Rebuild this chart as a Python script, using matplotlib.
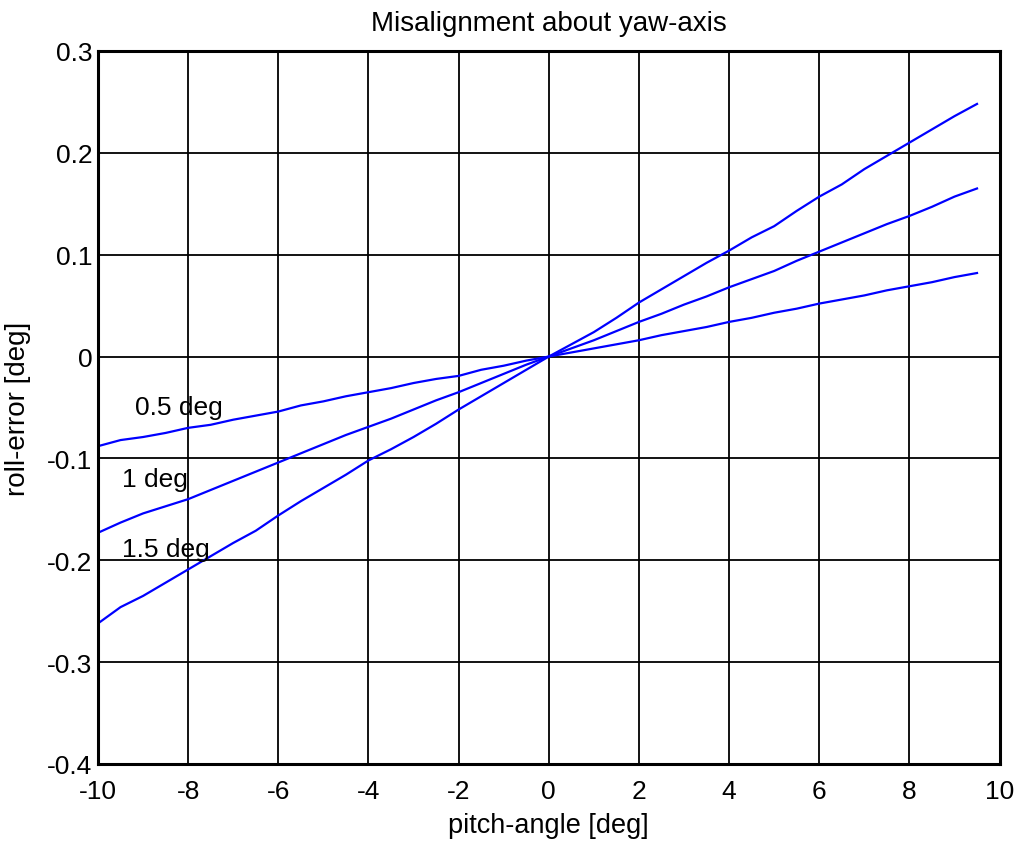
import matplotlib
matplotlib.use("Agg")
from matplotlib import pyplot as plt

# pitch angle samples [deg]
pitch = [-10.0, -9.5, -9.0, -8.5, -8.0, -7.5, -7.0, -6.5, -6.0, -5.5,
         -5.0, -4.5, -4.0, -3.5, -3.0, -2.5, -2.0, -1.5, -1.0, -0.5,
         0.0, 0.5, 1.0, 1.5, 2.0, 2.5, 3.0, 3.5, 4.0, 4.5,
         5.0, 5.5, 6.0, 6.5, 7.0, 7.5, 8.0, 8.5, 9.0, 9.5]

# roll error [deg] for each yaw misalignment
roll_05 = [-0.088, -0.082, -0.079, -0.075, -0.070, -0.067, -0.062, -0.058, -0.054, -0.048,
           -0.044, -0.039, -0.035, -0.031, -0.026, -0.022, -0.019, -0.013, -0.009, -0.004,
           0.000, 0.004, 0.008, 0.012, 0.016, 0.021, 0.025, 0.029, 0.034, 0.038,
           0.043, 0.047, 0.052, 0.056, 0.060, 0.065, 0.069, 0.073, 0.078, 0.082]
roll_10 = [-0.173, -0.163, -0.154, -0.147, -0.140, -0.131, -0.122, -0.113, -0.104, -0.095,
           -0.086, -0.077, -0.069, -0.061, -0.052, -0.043, -0.035, -0.026, -0.017, -0.008,
           0.000, 0.008, 0.016, 0.025, 0.034, 0.042, 0.051, 0.059, 0.068, 0.076,
           0.084, 0.094, 0.103, 0.112, 0.121, 0.130, 0.138, 0.147, 0.157, 0.165]
roll_15 = [-0.262, -0.246, -0.235, -0.222, -0.209, -0.196, -0.183, -0.171, -0.156, -0.142,
           -0.129, -0.116, -0.102, -0.091, -0.079, -0.066, -0.052, -0.039, -0.026, -0.013,
           0.000, 0.012, 0.024, 0.038, 0.053, 0.066, 0.079, 0.092, 0.104, 0.117,
           0.128, 0.143, 0.157, 0.169, 0.184, 0.197, 0.210, 0.223, 0.236, 0.248]

labels = ["0.5 deg", "1 deg", "1.5 deg"]
label_pos = [(-9.18, -0.0495), (-9.47, -0.120), (-9.47, -0.189)]

plt.rcParams['font.family'] = ['Liberation Sans', 'DejaVu Sans']
plt.rcParams['axes.unicode_minus'] = False

fig = plt.figure(figsize=(10.21, 8.45), dpi=100)
ax = fig.add_axes([0.096, 0.0947, 0.883, 0.8438])

for y in (roll_05, roll_10, roll_15):
    ax.plot(pitch, y, color='#0000ff', linewidth=1.6)

for txt, (tx, ty) in zip(labels, label_pos):
    ax.text(tx, ty, txt, fontsize=19, va='center', ha='left')

ax.set_xlim(-10, 10)
ax.set_ylim(-0.4, 0.3)
ax.set_xticks(range(-10, 11, 2))
ax.set_yticks([-0.4, -0.3, -0.2, -0.1, 0, 0.1, 0.2, 0.3])
ax.set_yticklabels(['-0.4', '-0.3', '-0.2', '-0.1', '0', '0.1', '0.2', '0.3'])
ax.grid(True, color='black', linewidth=1.3, linestyle='-')
ax.tick_params(direction='in', labelsize=19, length=0)
ax.tick_params(axis='x', pad=11)
ax.tick_params(axis='y', pad=4)
for s in ax.spines.values():
    s.set_linewidth(2.2)

ax.set_title('Misalignment about yaw-axis', fontsize=20, pad=15)
ax.set_xlabel('pitch-angle [deg]', fontsize=19.5, va='center')
ax.set_ylabel('roll-error [deg]', fontsize=20, va='center')
ax.xaxis.set_label_coords(0.5, -0.0856)
ax.yaxis.set_label_coords(-0.0886, 0.5)

fig.savefig('out.png', dpi=100)
